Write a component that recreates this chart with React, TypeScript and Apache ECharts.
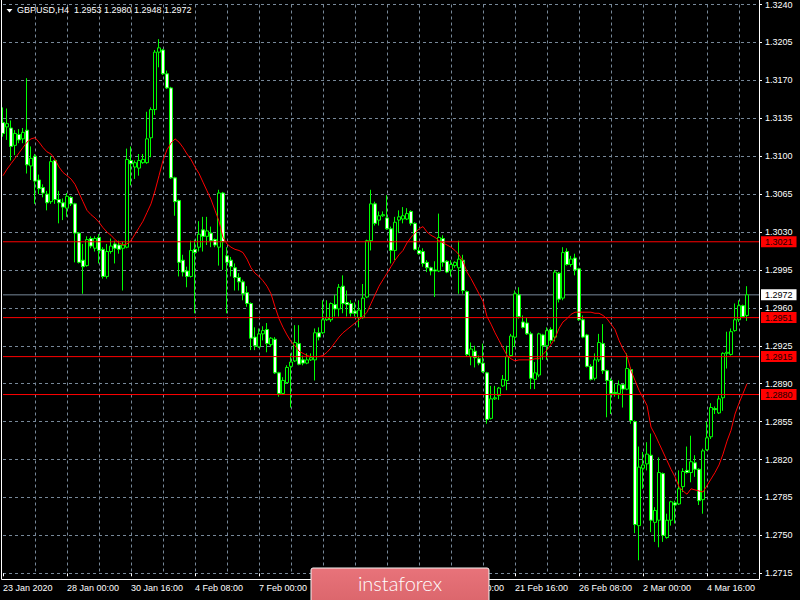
import React, { useEffect, useRef } from "react";
import * as echarts from "echarts";

const opens = [
  1.3131,1.3127,1.3126,1.3110,1.3120,1.3116,1.3124,1.3091,1.3100,1.3078,
  1.3071,1.3065,1.3058,1.3096,1.3060,1.3057,1.3052,1.3062,1.3056,1.3029,
  1.3004,1.2999,1.3024,1.3015,1.3025,1.3014,1.2989,1.3012,1.3019,1.3018,
  1.3015,1.3016,1.3096,1.3090,1.3089,1.3094,1.3094,1.3117,1.3143,1.3196,
  1.3198,1.3176,1.3163,1.3080,1.3059,1.3004,1.2994,1.2989,1.3014,1.3016,
  1.3032,1.3026,1.3029,1.3023,1.3016,1.3066,1.3008,1.3004,1.2997,1.2988,
  1.2984,1.2974,1.2964,1.2933,1.2924,1.2936,1.2940,1.2926,1.2931,1.2900,
  1.2881,1.2891,1.2906,1.2911,1.2927,1.2912,1.2909,1.2912,1.2912,1.2937,
  1.2937,1.2949,1.2949,1.2963,1.2959,1.2980,1.2965,1.2964,1.2957,1.2951,
  1.2951,1.2970,1.3022,1.3056,1.3041,1.3045,1.3043,1.3033,1.3013,1.3041,
  1.3042,1.3042,1.3049,1.3038,1.3013,1.3012,1.3002,1.2997,1.2995,1.2994,
  1.3024,1.3003,1.2995,1.2999,1.2997,1.3004,1.2975,1.2915,1.2920,1.2913,
  1.2909,1.2900,1.2858,1.2876,1.2879,1.2888,1.2893,1.2916,1.2933,1.2972,
  1.2947,1.2946,1.2936,1.2894,1.2898,1.2935,1.2925,1.2940,1.2933,1.2992,
  1.2969,1.3012,1.3000,1.3006,1.2996,1.2949,1.2935,1.2906,1.2895,1.2912,
  1.2927,1.2902,1.2893,1.2882,1.2881,1.2889,1.2885,1.2903,1.2855,1.2759,
  1.2812,1.2816,1.2824,1.2762,1.2764,1.2807,1.2748,1.2764,1.2780,1.2779,
  1.2795,1.2810,1.2808,1.2817,1.2811,1.2783,1.2829,1.2841,1.2867,1.2863,
  1.2877,1.2918,1.2917,1.2939,1.2949,1.2962,1.2953,
];

const highs = [
  1.3145,1.3144,1.3133,1.3124,1.3125,1.3126,1.3172,1.3109,1.3102,1.3083,
  1.3074,1.3068,1.3100,1.3097,1.3068,1.3061,1.3066,1.3063,1.3057,1.3030,
  1.3019,1.3026,1.3026,1.3026,1.3028,1.3016,1.3019,1.3024,1.3022,1.3022,
  1.3021,1.3107,1.3109,1.3096,1.3102,1.3102,1.3141,1.3145,1.3198,1.3208,
  1.3199,1.3179,1.3164,1.3081,1.3060,1.3009,1.2998,1.3022,1.3023,1.3040,
  1.3044,1.3044,1.3035,1.3024,1.3069,1.3067,1.3016,1.3007,1.3001,1.2992,
  1.2986,1.2980,1.2965,1.2942,1.2941,1.2943,1.2946,1.2933,1.2933,1.2901,
  1.2896,1.2907,1.2918,1.2944,1.2944,1.2916,1.2918,1.2918,1.2941,1.2942,
  1.2967,1.2967,1.2965,1.2972,1.2982,1.2990,1.2976,1.2967,1.2965,1.2967,
  1.2982,1.3023,1.3069,1.3058,1.3049,1.3049,1.3064,1.3035,1.3044,1.3050,
  1.3053,1.3052,1.3050,1.3039,1.3016,1.3015,1.3004,1.2998,1.3003,1.3047,
  1.3027,1.3004,1.3004,1.3003,1.3022,1.3009,1.2976,1.2928,1.2925,1.2916,
  1.2927,1.2901,1.2888,1.2888,1.2887,1.2898,1.2925,1.2936,1.2976,1.2979,
  1.2953,1.2951,1.2938,1.2910,1.2937,1.2936,1.2942,1.2942,1.2995,1.2993,
  1.3016,1.3015,1.3008,1.3010,1.2997,1.2953,1.2936,1.2908,1.2918,1.2936,
  1.2945,1.2903,1.2895,1.2890,1.2893,1.2890,1.2918,1.2905,1.2856,1.2832,
  1.2827,1.2836,1.2844,1.2776,1.2822,1.2808,1.2770,1.2782,1.2782,1.2810,
  1.2812,1.2832,1.2842,1.2824,1.2812,1.2830,1.2855,1.2872,1.2869,1.2879,
  1.2919,1.2938,1.2941,1.2964,1.2967,1.2963,1.2980,
];

const lows = [
  1.3118,1.3115,1.3096,1.3101,1.3112,1.3112,1.3084,1.3078,1.3056,1.3065,
  1.3062,1.3050,1.3056,1.3056,1.3038,1.3041,1.3044,1.3054,1.3002,1.3001,
  1.2973,1.2998,1.3015,1.3012,1.3001,1.2987,1.2987,1.3010,1.3001,1.3010,
  1.2976,1.3015,1.3073,1.3079,1.3082,1.3093,1.3093,1.3099,1.3138,1.3182,
  1.3175,1.3162,1.3079,1.3045,1.2989,1.2989,1.2979,1.2988,1.2955,1.3012,
  1.3012,1.3018,1.3016,1.3016,1.2999,1.2995,1.2955,1.2989,1.2976,1.2976,
  1.2967,1.2961,1.2921,1.2921,1.2923,1.2930,1.2919,1.2924,1.2899,1.2878,
  1.2880,1.2890,1.2868,1.2910,1.2907,1.2907,1.2908,1.2911,1.2893,1.2930,
  1.2936,1.2948,1.2947,1.2952,1.2952,1.2955,1.2952,1.2952,1.2952,1.2942,
  1.2950,1.2969,1.3013,1.3036,1.3036,1.3044,1.3032,1.3001,1.3004,1.3029,
  1.3038,1.3041,1.3036,1.3013,1.3009,1.2998,1.2993,1.2990,1.2970,1.2993,
  1.2998,1.2992,1.2989,1.2997,1.2973,1.2973,1.2915,1.2907,1.2905,1.2907,
  1.2900,1.2853,1.2857,1.2875,1.2875,1.2887,1.2884,1.2915,1.2924,1.2950,
  1.2941,1.2935,1.2885,1.2885,1.2896,1.2912,1.2912,1.2927,1.2929,1.2965,
  1.2967,1.2999,1.2998,1.2990,1.2948,1.2932,1.2905,1.2893,1.2893,1.2910,
  1.2899,1.2859,1.2862,1.2878,1.2876,1.2868,1.2884,1.2853,1.2752,1.2727,
  1.2793,1.2810,1.2753,1.2744,1.2739,1.2744,1.2747,1.2759,1.2761,1.2778,
  1.2790,1.2807,1.2799,1.2804,1.2778,1.2770,1.2828,1.2839,1.2862,1.2862,
  1.2865,1.2904,1.2916,1.2938,1.2947,1.2951,1.2948,
];

const closes = [
  1.3121,1.3130,1.3109,1.3121,1.3115,1.3122,1.3092,1.3098,1.3077,1.3070,
  1.3066,1.3057,1.3095,1.3060,1.3057,1.3053,1.3063,1.3056,1.3029,1.3002,
  1.2998,1.3023,1.3017,1.3024,1.3013,1.2989,1.3012,1.3017,1.3015,1.3014,
  1.3018,1.3097,1.3093,1.3094,1.3096,1.3097,1.3116,1.3143,1.3196,1.3200,
  1.3176,1.3163,1.3080,1.3058,1.3002,1.2993,1.2989,1.3013,1.3011,1.3028,
  1.3026,1.3031,1.3022,1.3018,1.3066,1.3021,1.3002,1.2998,1.2988,1.2984,
  1.2973,1.2964,1.2932,1.2925,1.2936,1.2939,1.2927,1.2932,1.2900,1.2881,
  1.2893,1.2905,1.2910,1.2928,1.2908,1.2909,1.2912,1.2914,1.2937,1.2933,
  1.2949,1.2951,1.2964,1.2959,1.2979,1.2964,1.2963,1.2955,1.2955,1.2958,
  1.2969,1.3022,1.3056,1.3038,1.3045,1.3046,1.3033,1.3013,1.3039,1.3044,
  1.3045,1.3047,1.3038,1.3014,1.3010,1.3001,1.2997,1.2994,1.2994,1.3025,
  1.3002,1.2993,1.3000,1.3002,1.3005,1.2976,1.2917,1.2922,1.2914,1.2909,
  1.2901,1.2857,1.2876,1.2877,1.2886,1.2894,1.2915,1.2934,1.2973,1.2952,
  1.2942,1.2936,1.2895,1.2900,1.2936,1.2925,1.2939,1.2930,1.2993,1.2968,
  1.3011,1.3000,1.3005,1.2995,1.2949,1.2933,1.2906,1.2894,1.2912,1.2928,
  1.2902,1.2893,1.2881,1.2881,1.2889,1.2885,1.2904,1.2856,1.2760,1.2813,
  1.2815,1.2825,1.2764,1.2773,1.2808,1.2750,1.2764,1.2781,1.2778,1.2793,
  1.2809,1.2808,1.2818,1.2811,1.2782,1.2828,1.2840,1.2868,1.2866,1.2876,
  1.2918,1.2919,1.2938,1.2949,1.2962,1.2952,1.2972,
];

const movingAverage = [
  1.3082,1.3088,1.3093,1.3098,1.3103,1.3108,1.3113,1.3116,1.3117,1.3113,
  1.3108,1.3104,1.3102,1.3097,1.3090,1.3085,1.3082,1.3079,1.3074,1.3066,
  1.3058,1.3050,1.3046,1.3043,1.3039,1.3034,1.3030,1.3027,1.3023,1.3020,
  1.3018,1.3019,1.3022,1.3028,1.3034,1.3040,1.3048,1.3056,1.3068,1.3082,
  1.3096,1.3106,1.3112,1.3116,1.3113,1.3108,1.3102,1.3097,1.3090,1.3084,
  1.3076,1.3068,1.3060,1.3050,1.3040,1.3025,1.3019,1.3016,1.3014,1.3013,
  1.3011,1.3005,1.2997,1.2992,1.2989,1.2985,1.2980,1.2973,1.2961,1.2950,
  1.2942,1.2935,1.2929,1.2925,1.2920,1.2918,1.2916,1.2915,1.2915,1.2915,
  1.2916,1.2919,1.2923,1.2928,1.2933,1.2937,1.2940,1.2943,1.2946,1.2949,
  1.2952,1.2956,1.2964,1.2972,1.2980,1.2986,1.2992,1.2998,1.3004,1.3009,
  1.3013,1.3020,1.3025,1.3029,1.3033,1.3035,1.3030,1.3027,1.3025,1.3022,
  1.3020,1.3018,1.3016,1.3013,1.3009,1.3003,1.2993,1.2987,1.2980,1.2973,
  1.2966,1.2952,1.2945,1.2937,1.2930,1.2923,1.2916,1.2913,1.2911,1.2912,
  1.2912,1.2912,1.2912,1.2913,1.2913,1.2917,1.2921,1.2926,1.2932,1.2941,
  1.2947,1.2950,1.2954,1.2956,1.2956,1.2956,1.2956,1.2956,1.2955,1.2955,
  1.2953,1.2950,1.2945,1.2940,1.2930,1.2922,1.2916,1.2902,1.2893,1.2884,
  1.2877,1.2870,1.2850,1.2843,1.2835,1.2827,1.2819,1.2811,1.2804,1.2795,
  1.2791,1.2788,1.2793,1.2792,1.2791,1.2790,1.2796,1.2802,1.2808,1.2815,
  1.2825,1.2837,1.2847,1.2862,1.2872,1.2881,1.2890,
];

// Date labels every 16 bars; the ones fully hidden behind the logo in the reference are not drawn.
const dateLabels = [
  "23 Jan 2020", "28 Jan 00:00", "30 Jan 16:00", "4 Feb 08:00", "7 Feb 00:00",
  "11 Feb 16:00", "14 Feb 08:00", "19 Feb 00:00", "21 Feb 16:00", "26 Feb 08:00",
  "2 Mar 00:00", "4 Mar 16:00",
];
const hiddenDateLabels = ["11 Feb 16:00", "14 Feb 08:00"];

const priceLabels = [
  "1.2715", "1.2750", "1.2785", "1.2820", "1.2855", "1.2890", "1.2925", "1.2960",
  "1.2995", "1.3030", "1.3065", "1.3100", "1.3135", "1.3170", "1.3205", "1.3240",
];

const levelLines = [1.3021, 1.2951, 1.2915, 1.2880];
const bidPrice = 1.2972;
const titleText = "GBPUSD,H4  1.2953 1.2980 1.2948 1.2972";

export default function App() {
  const ref = useRef<HTMLDivElement>(null);

  useEffect(() => {
    if (!ref.current) return;
    const chart = echarts.init(ref.current, null, { renderer: "svg" });
    const font = "'Liberation Sans', Arial, sans-serif";
    const gridColor = "#778899";
    const categories = Array.from({ length: opens.length + 3 }, (_, i) => String(i));
    const lastIndex = categories.length - 1;
    const ohlc = opens.map((o, i) => [o, closes[i], lows[i], highs[i]]);

    const makeLevel = (v: number, lineColor: string, boxColor: string, textColor: string, z: number) => ({
      type: "line",
      yAxisIndex: 0,
      data: [[0, v], [lastIndex, v]],
      symbol: "none",
      showSymbol: false,
      silent: true,
      z,
      lineStyle: { color: lineColor, width: 1 },
      endLabel: {
        show: true,
        distance: 2,
        formatter: () => v.toFixed(4),
        color: textColor,
        backgroundColor: boxColor,
        padding: [1, 4, 1, 4],
        fontSize: 9,
        fontFamily: font,
      },
    });

    chart.setOption({
      animation: false,
      backgroundColor: "#000000",
      title: {
        text: titleText,
        left: 17,
        top: 5,
        padding: 0,
        textStyle: { color: "#ffffff", fontSize: 9, fontWeight: "normal", fontFamily: font },
      },
      grid: { left: 3, right: 41, top: 4.3, bottom: 26.7 },
      xAxis: {
        type: "category",
        data: categories,
        boundaryGap: false,
        offset: 6,
        axisLine: { show: false },
        axisTick: {
          show: true,
          interval: (i: number) => i % 16 === 0,
          length: 3,
          lineStyle: { color: "#ffffff" },
        },
        axisLabel: {
          interval: (i: number) => i % 16 === 0,
          formatter: (v: string) => {
            const label = dateLabels[Number(v) / 16] ?? "";
            return hiddenDateLabels.includes(label) ? "" : label;
          },
          color: "#ffffff",
          fontSize: 9,
          fontFamily: font,
          align: "left",
          margin: 4,
        },
        splitLine: {
          show: true,
          interval: (i: number) => i % 8 === 0 && i > 0,
          lineStyle: { color: gridColor, type: [3, 3], width: 1 },
        },
      },
      yAxis: [
        { type: "value", min: 1.2715, max: 1.324, show: false },
        {
          type: "value",
          min: 0,
          max: 15,
          interval: 1,
          position: "right",
          axisLine: { show: false },
          axisTick: { show: true, length: 3, lineStyle: { color: "#ffffff" } },
          axisLabel: {
            formatter: (v: number) => priceLabels[Math.round(v)] ?? "",
            color: "#ffffff",
            fontSize: 9,
            fontFamily: font,
            margin: 6,
          },
          splitLine: { show: true, lineStyle: { color: gridColor, type: [3, 3], width: 1 } },
        },
      ],
      series: [
        makeLevel(bidPrice, gridColor, "#ffffff", "#000000", 1),
        {
          type: "candlestick",
          data: ohlc,
          yAxisIndex: 0,
          barWidth: 3,
          clip: false,
          silent: true,
          z: 2,
          itemStyle: {
            color: "#000000",
            color0: "#ffffff",
            borderColor: "#00ff00",
            borderColor0: "#00ff00",
            borderColorDoji: "#00ff00",
            borderWidth: 1,
          },
        },
        {
          type: "line",
          data: movingAverage,
          yAxisIndex: 0,
          symbol: "none",
          showSymbol: false,
          silent: true,
          z: 3,
          lineStyle: { color: "#ff0000", width: 1 },
        },
        ...levelLines.map((v) => makeLevel(v, "#ff0000", "#ff0000", "#200000", 4)),
      ],
      graphic: [
        {
          type: "rect",
          z: 20,
          silent: true,
          shape: { x: 1.5, y: -2, width: 758, height: 581.5 },
          style: { fill: "none", stroke: "#ffffff", lineWidth: 1 },
        },
        {
          type: "polygon",
          z: 20,
          silent: true,
          shape: { points: [[6.5, 9], [12.5, 9], [9.5, 12.5]] },
          style: { fill: "#ffffff" },
        },
        {
          type: "group",
          z: 100,
          silent: true,
          children: [
            {
              type: "rect",
              z: 100,
              shape: { x: 311, y: 568, width: 178, height: 40, r: 2 },
              style: {
                fill: new echarts.graphic.LinearGradient(0, 0, 0, 1, [
                  { offset: 0, color: "#e8737a" },
                  { offset: 1, color: "#d9646a" },
                ]),
                stroke: "#f4f4f4",
                lineWidth: 1,
              },
            },
            {
              type: "text",
              z: 101,
              style: {
                x: 400,
                y: 583,
                text: "instaforex",
                fill: "#ffffff",
                fontSize: 20,
                fontWeight: 300,
                fontFamily: "Lato, 'Open Sans', sans-serif",
                align: "center",
                verticalAlign: "middle",
              },
            },
          ],
        },
      ],
    });

    return () => chart.dispose();
  }, []);

  return (
    <div
      ref={ref}
      style={{ position: "absolute", left: 0, top: 0, width: 800, height: 600, background: "#000" }}
    />
  );
}
